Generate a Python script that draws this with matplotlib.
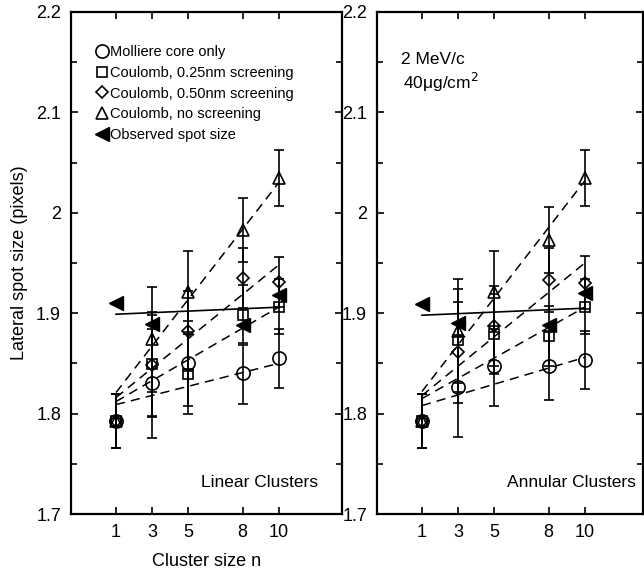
import numpy as np
import matplotlib.pyplot as plt
from matplotlib.lines import Line2D
from matplotlib.ticker import MultipleLocator

plt.rcParams['font.family'] = ['Liberation Sans', 'DejaVu Sans']

# cluster sizes
n = [1, 3, 5, 8, 10]
n_obs = [1, 3, 8, 10]
fit_x = [1, 10]

# ---- linear clusters ----
molliere_lin = [1.793, 1.830, 1.850, 1.840, 1.855]
molliere_lin_err = [0.027, 0.054, 0.042, 0.030, 0.029]
c025_lin = [1.793, 1.849, 1.8395, 1.898, 1.9066]
c025_lin_err = [0.027, 0.052, 0.040, 0.030, 0.027]
c050_lin = [1.793, 1.848, 1.882, 1.935, 1.931]
c050_lin_err = [0.027, 0.050, 0.040, 0.030, 0.025]
noscr_lin = [1.793, 1.874, 1.9215, 1.983, 2.0345]
noscr_lin_err = [0.027, 0.052, 0.040, 0.032, 0.028]
obs_lin = [1.910, 1.889, 1.888, 1.918]
# fitted lines, value at n=1 and n=10
fits_lin = {
    'molliere': [1.809, 1.850],
    'c025': [1.812, 1.906],
    'c050': [1.816, 1.948],
    'noscr': [1.821, 2.030],
    'obs': [1.899, 1.906],
}

# ---- annular clusters ----
molliere_ann = [1.793, 1.827, 1.8475, 1.8475, 1.8535]
molliere_ann_err = [0.027, 0.050, 0.040, 0.034, 0.029]
c025_ann = [1.793, 1.873, 1.879, 1.877, 1.9066]
c025_ann_err = [0.027, 0.051, 0.040, 0.030, 0.027]
c050_ann = [1.793, 1.861, 1.887, 1.933, 1.9305]
c050_ann_err = [0.027, 0.050, 0.040, 0.032, 0.026]
noscr_ann = [1.793, 1.882, 1.9215, 1.973, 2.0345]
noscr_ann_err = [0.027, 0.052, 0.040, 0.033, 0.028]
obs_ann = [1.909, 1.890, 1.888, 1.920]
fits_ann = {
    'molliere': [1.808, 1.856],
    'c025': [1.815, 1.906],
    'c050': [1.818, 1.950],
    'noscr': [1.822, 2.032],
    'obs': [1.898, 1.905],
}

labels = ['Molliere core only', 'Coulomb, 0.25nm screening',
          'Coulomb, 0.50nm screening', 'Coulomb, no screening',
          'Observed spot size']
markers = {'molliere': ('o', 9.5), 'c025': ('s', 7.5),
           'c050': ('D', 6.5), 'noscr': ('^', 9)}


def draw_panel(ax, series, obs, fits, xlim):
    for key, (y, err) in series.items():
        ax.errorbar(n, y, yerr=err, fmt='none', ecolor='k', elinewidth=1.2,
                    capsize=3.8, capthick=1.2)
    for key, (y, err) in series.items():
        m, ms = markers[key]
        ax.plot(n, y, ls='none', marker=m, ms=ms, mfc='none', mec='k', mew=1.2)
        ax.plot(fit_x, fits[key], color='k', lw=1.1, ls=(0, (6, 4)))
    ax.plot(n_obs, obs, ls='none', marker='<', ms=10, color='k')
    ax.plot(fit_x, fits['obs'], color='k', lw=1.2)

    ax.set_xlim(*xlim)
    ax.set_ylim(1.7, 2.2)
    ax.set_xticks(n)
    ax.set_yticks([1.7, 1.8, 1.9, 2.0, 2.1, 2.2])
    ax.set_yticklabels(['1.7', '1.8', '1.9', '2', '2.1', '2.2'])
    ax.yaxis.set_minor_locator(MultipleLocator(0.05))
    ax.tick_params(which='both', direction='in', top=True, right=True,
                   labelsize=13, width=1.2, pad=7)
    ax.tick_params(which='major', length=5)
    ax.tick_params(which='minor', length=4)
    for s in ax.spines.values():
        s.set_linewidth(1.6)


fig = plt.figure(figsize=(6.44, 5.74), dpi=100)
ax1 = fig.add_axes([0.110, 0.1045, 0.421, 0.8746])
ax2 = fig.add_axes([0.585, 0.1045, 0.413, 0.8746])

draw_panel(ax1, {'molliere': (molliere_lin, molliere_lin_err),
                 'c025': (c025_lin, c025_lin_err),
                 'c050': (c050_lin, c050_lin_err),
                 'noscr': (noscr_lin, noscr_lin_err)},
           obs_lin, fits_lin, (-1.5, 13.5))
draw_panel(ax2, {'molliere': (molliere_ann, molliere_ann_err),
                 'c025': (c025_ann, c025_ann_err),
                 'c050': (c050_ann, c050_ann_err),
                 'noscr': (noscr_ann, noscr_ann_err)},
           obs_ann, fits_ann, (-1.5, 13.2))

ax1.set_xlabel('Cluster size n', fontsize=13, labelpad=9)
ax1.set_ylabel('Lateral spot size (pixels)', fontsize=13, labelpad=6)

handles = [Line2D([], [], ls='none', marker=markers[k][0], ms=markers[k][1],
                  mfc='none', mec='k', mew=1.2)
           for k in ['molliere', 'c025', 'c050', 'noscr']]
handles.append(Line2D([], [], ls='none', marker='<', ms=10, color='k'))
ax1.legend(handles, labels, loc='upper left', bbox_to_anchor=(0.068, 0.945),
           frameon=False, fontsize=10.5, handlelength=0.9,
           handletextpad=0.15, labelspacing=0.45, borderaxespad=0)

ax1.text(0.91, 0.062, 'Linear Clusters', transform=ax1.transAxes,
         ha='right', va='center', fontsize=12.5)
ax2.text(0.976, 0.062, 'Annular Clusters', transform=ax2.transAxes,
         ha='right', va='center', fontsize=12.5)
ax2.text(0.09, 0.905, '2 MeV/c', transform=ax2.transAxes,
         ha='left', va='center', fontsize=12.5)
ax2.text(0.10, 0.86, '40\u03bcg/cm$^2$', transform=ax2.transAxes,
         ha='left', va='center', fontsize=12.5)

fig.savefig('out.png', dpi=100)
